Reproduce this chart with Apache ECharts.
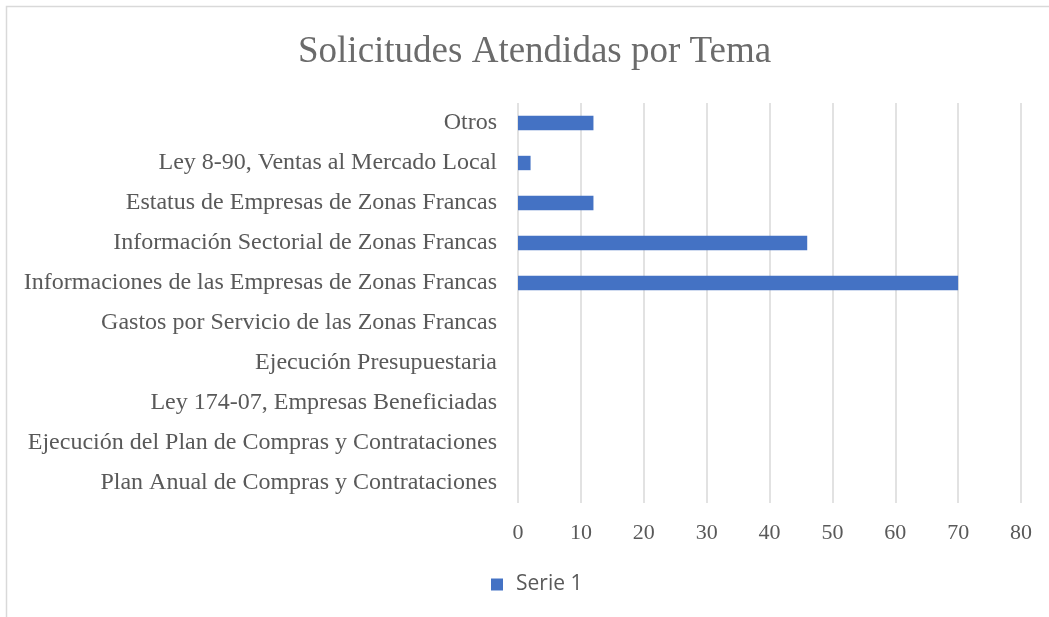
<!DOCTYPE html>
<html>
<head>
<meta charset="utf-8">
<script src="https://cdn.jsdelivr.net/npm/echarts@6/dist/echarts.min.js"></script>
<style>
html,body{margin:0;padding:0;background:#fff;}
#chart{width:1049px;height:617px;}
</style>
</head>
<body>
<div id="chart"></div>
<script>
const categories = [
  "Plan Anual de Compras y Contrataciones",
  "Ejecución del Plan de Compras y Contrataciones",
  "Ley 174-07, Empresas Beneficiadas",
  "Ejecución Presupuestaria",
  "Gastos por Servicio de las Zonas Francas",
  "Informaciones de las Empresas de Zonas Francas",
  "Información Sectorial de Zonas Francas",
  "Estatus de Empresas de Zonas Francas",
  "Ley 8-90, Ventas al Mercado Local",
  "Otros"
];
const serie1 = [0, 0, 0, 0, 0, 70, 46, 12, 2, 12];
const seriesName = "Serie 1";
const titleText = "Solicitudes Atendidas por Tema";

const chart = echarts.init(document.getElementById('chart'));
chart.setOption({
  animation: false,
  backgroundColor: '#ffffff',
  title: {
    text: titleText,
    left: 293,
    top: 29,
    textStyle: { fontFamily: 'Liberation Serif', fontSize: 37, fontWeight: 'normal', color: '#6b6b6b' }
  },
  legend: {
    data: [seriesName],
    bottom: 22,
    left: 491,
    padding: 0,
    itemWidth: 12,
    itemHeight: 12,
    icon: 'rect',
    textStyle: { fontFamily: 'Open Sans', fontSize: 21, color: '#595959', padding: [0, 0, 0, 8] }
  },
  grid: { left: 518, right: 28, top: 103, bottom: 114, containLabel: false },
  xAxis: {
    type: 'value',
    min: 0, max: 80, interval: 10,
    axisLine: { show: false },
    axisTick: { show: false },
    splitLine: { show: true, lineStyle: { color: '#d9d9d9', width: 1.5 } },
    axisLabel: { margin: 19, fontFamily: 'Liberation Serif', fontSize: 22, color: '#595959' }
  },
  yAxis: {
    type: 'category',
    data: categories,
    axisLine: { show: false },
    axisTick: { show: false },
    axisLabel: { margin: 21, fontFamily: 'Liberation Serif', fontSize: 24, color: '#595959', verticalAlign: 'middle', lineHeight: 24, padding: [5, 0, 0, 0] }
  },
  graphic: [{
    type: 'rect',
    shape: { x: 6.5, y: 6.5, width: 1200, height: 800 },
    style: { fill: 'none', stroke: '#d9d9d9', lineWidth: 1.5 },
    silent: true
  }],
  series: [{
    name: seriesName,
    type: 'bar',
    data: serie1,
    barCategoryGap: '64%',
    itemStyle: { color: '#4472c4' }
  }]
});
</script>
</body>
</html>
